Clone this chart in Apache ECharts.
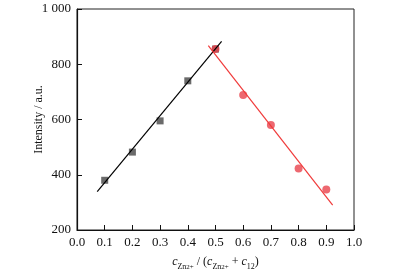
<!DOCTYPE html>
<html>
<head>
<meta charset="utf-8">
<script src="https://cdn.jsdelivr.net/npm/echarts@6/dist/echarts.min.js"></script>
<style>
  html, body { margin: 0; padding: 0; background: #fff; }
  #chart { width: 394px; height: 279px; }
</style>
</head>
<body>
<div id="chart"></div>
<script>
// measured points
const blackX = [0.1, 0.2, 0.3, 0.4, 0.5]
const blackY = [380, 482, 595, 740, 855]
const redX = [0.5, 0.6, 0.7, 0.8, 0.9]
const redY = [855, 689, 580, 423, 347]

// fitted lines, end points
const blackFitX = [0.073, 0.522]
const blackFitY = [339, 883]
const redFitX = [0.474, 0.923]
const redFitY = [867, 290]

const xTicks = [0, 0.1, 0.2, 0.3, 0.4, 0.5, 0.6, 0.7, 0.8, 0.9, 1.0]
const yTicks = [200, 400, 600, 800, 1000]

const zip = (xs, ys) => xs.map((x, i) => [x, ys[i]])

const font = 'Liberation Serif'
const chart = echarts.init(document.getElementById('chart'))

chart.setOption({
  animation: false,
  textStyle: { fontFamily: font },
  grid: {
    left: 77, top: 9, right: 40, bottom: 49,
    show: true, borderColor: '#222', borderWidth: 1
  },
  xAxis: {
    type: 'value',
    min: xTicks[0], max: xTicks[xTicks.length - 1], interval: 0.1,
    axisLine: { lineStyle: { color: '#111', width: 1.2 } },
    axisTick: { inside: true, length: 5, lineStyle: { color: '#111' } },
    axisLabel: { color: '#111', fontSize: 13, fontFamily: font, margin: 6,
      formatter: v => v.toFixed(1) },
    splitLine: { show: false },
    name: '{i|c}{s|Zn}{p|2+}{n| / (}{i|c}{s|Zn}{p|2+}{n| + }{i|c}{s|12}{n|)}',
    nameLocation: 'middle',
    nameMoveOverlap: false,
    nameGap: 23,
    nameTextStyle: {
      rich: {
        i: { fontFamily: font, fontStyle: 'italic', fontSize: 12, color: '#111', lineHeight: 18, verticalAlign: 'middle' },
        n: { fontFamily: font, fontSize: 12, color: '#111', lineHeight: 18, verticalAlign: 'middle' },
        s: { fontFamily: font, fontSize: 8, color: '#111', lineHeight: 8, verticalAlign: 'bottom', padding: [10, 0, 0, 0] },
        p: { fontFamily: font, fontSize: 7, color: '#111', lineHeight: 8, verticalAlign: 'bottom', padding: [7, 0, 0, 0] }
      }
    }
  },
  yAxis: {
    type: 'value',
    min: yTicks[0], max: yTicks[yTicks.length - 1], interval: 200,
    axisLine: { show: true, lineStyle: { color: '#111', width: 1.2 } },
    axisTick: { show: true, inside: true, length: 5, lineStyle: { color: '#111' } },
    axisLabel: { color: '#111', fontSize: 13, fontFamily: font, margin: 6,
      formatter: v => v >= 1000 ? '1 000' : String(v) },
    splitLine: { show: false },
    name: 'Intensity / a.u.',
    nameLocation: 'middle',
    nameMoveOverlap: false,
    nameGap: 32,
    nameTextStyle: { color: '#111', fontSize: 12, fontFamily: font }
  },
  series: [
    {
      type: 'line', data: zip(blackFitX, blackFitY), symbol: 'none',
      lineStyle: { color: '#000', width: 1.2 }
    },
    {
      type: 'line', data: zip(redFitX, redFitY), symbol: 'none',
      lineStyle: { color: '#f03a3a', width: 1.2 }
    },
    {
      type: 'scatter', data: zip(blackX, blackY), symbol: 'rect', symbolSize: 7,
      itemStyle: { color: '#454545' }
    },
    {
      type: 'scatter', data: zip(redX, redY), symbol: 'circle', symbolSize: 8,
      itemStyle: { color: '#e8424c' }
    }
  ]
})
</script>
</body>
</html>
